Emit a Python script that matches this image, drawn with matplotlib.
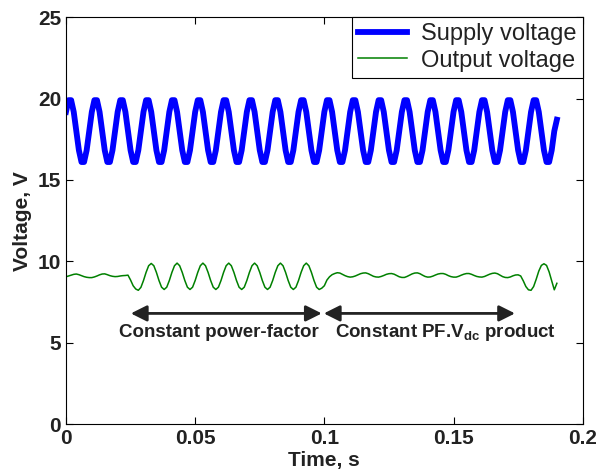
import numpy as np
import matplotlib
matplotlib.use("Agg")
import matplotlib.pyplot as plt

plt.rcParams["font.family"] = ["Liberation Sans", "DejaVu Sans"]
plt.rcParams["mathtext.fontset"] = "custom"
plt.rcParams["mathtext.bf"] = "Liberation Sans:bold"
plt.rcParams["mathtext.rm"] = "Liberation Sans"

# sample times (1 ms steps, 0 .. 0.19 s)
t = np.linspace(0, 0.19, 191)

# supply voltage, one row per 10 ms cycle
supply_v = [
    19.18, 19.90, 19.90, 19.18, 18.00, 16.82, 16.10, 16.10, 16.82, 18.00,
    19.18, 19.90, 19.90, 19.18, 18.00, 16.82, 16.10, 16.10, 16.82, 18.00,
    19.18, 19.90, 19.90, 19.18, 18.00, 16.82, 16.10, 16.10, 16.82, 18.00,
    19.18, 19.90, 19.90, 19.18, 18.00, 16.82, 16.10, 16.10, 16.82, 18.00,
    19.18, 19.90, 19.90, 19.18, 18.00, 16.82, 16.10, 16.10, 16.82, 18.00,
    19.18, 19.90, 19.90, 19.18, 18.00, 16.82, 16.10, 16.10, 16.82, 18.00,
    19.18, 19.90, 19.90, 19.18, 18.00, 16.82, 16.10, 16.10, 16.82, 18.00,
    19.18, 19.90, 19.90, 19.18, 18.00, 16.82, 16.10, 16.10, 16.82, 18.00,
    19.18, 19.90, 19.90, 19.18, 18.00, 16.82, 16.10, 16.10, 16.82, 18.00,
    19.18, 19.90, 19.90, 19.18, 18.00, 16.82, 16.10, 16.10, 16.82, 18.00,
    19.18, 19.90, 19.90, 19.18, 18.00, 16.82, 16.10, 16.10, 16.82, 18.00,
    19.18, 19.90, 19.90, 19.18, 18.00, 16.82, 16.10, 16.10, 16.82, 18.00,
    19.18, 19.90, 19.90, 19.18, 18.00, 16.82, 16.10, 16.10, 16.82, 18.00,
    19.18, 19.90, 19.90, 19.18, 18.00, 16.82, 16.10, 16.10, 16.82, 18.00,
    19.18, 19.90, 19.90, 19.18, 18.00, 16.82, 16.10, 16.10, 16.82, 18.00,
    19.18, 19.90, 19.90, 19.18, 18.00, 16.82, 16.10, 16.10, 16.82, 18.00,
    19.18, 19.90, 19.90, 19.18, 18.00, 16.82, 16.10, 16.10, 16.82, 18.00,
    19.18, 19.90, 19.90, 19.18, 18.00, 16.82, 16.10, 16.10, 16.82, 18.00,
    19.18, 19.90, 19.90, 19.18, 18.00, 16.82, 16.10, 16.10, 16.82, 18.00,
    18.70,
]

output_v = [
    9.05, 9.10, 9.15, 9.20, 9.22, 9.18, 9.12, 9.06, 9.02, 9.00,
    9.00, 9.04, 9.10, 9.17, 9.22, 9.23, 9.18, 9.12, 9.08, 9.06,
    9.07, 9.10, 9.12, 9.13, 9.15, 8.85, 8.50, 8.30, 8.22, 8.40,
    8.82, 9.32, 9.73, 9.87, 9.73, 9.32, 8.82, 8.41, 8.27, 8.41,
    8.82, 9.32, 9.73, 9.89, 9.73, 9.32, 8.82, 8.41, 8.27, 8.41,
    8.82, 9.32, 9.73, 9.89, 9.73, 9.32, 8.82, 8.41, 8.27, 8.41,
    8.82, 9.32, 9.73, 9.89, 9.73, 9.32, 8.82, 8.41, 8.27, 8.41,
    8.82, 9.32, 9.73, 9.89, 9.73, 9.32, 8.82, 8.41, 8.27, 8.41,
    8.82, 9.32, 9.73, 9.89, 9.73, 9.32, 8.82, 8.41, 8.27, 8.41,
    8.82, 9.32, 9.73, 9.89, 9.73, 9.32, 8.82, 8.41, 8.27, 8.35,
    8.50, 8.85, 9.05, 9.18, 9.25, 9.30, 9.28, 9.20, 9.12, 9.06,
    9.03, 9.05, 9.10, 9.17, 9.24, 9.28, 9.29, 9.24, 9.16, 9.08,
    9.04, 9.03, 9.07, 9.13, 9.20, 9.24, 9.25, 9.21, 9.13, 9.05,
    9.01, 9.01, 9.07, 9.15, 9.23, 9.28, 9.29, 9.24, 9.15, 9.07,
    9.03, 9.04, 9.09, 9.16, 9.22, 9.25, 9.25, 9.20, 9.12, 9.06,
    9.03, 9.03, 9.08, 9.15, 9.21, 9.25, 9.25, 9.20, 9.13, 9.07,
    9.04, 9.03, 9.07, 9.14, 9.21, 9.26, 9.28, 9.24, 9.15, 9.06,
    9.01, 9.00, 9.04, 9.11, 9.16, 9.17, 9.10, 8.80, 8.45, 8.25,
    8.22, 8.45, 8.90, 9.40, 9.75, 9.85, 9.75, 9.35, 8.80, 8.25,
    8.65,
]

# region annotations: (start, end) in seconds, arrow height, label
arrow_y = 6.8
spans = [(0.0251, 0.0990), (0.0998, 0.1738)]
span_labels = ["Constant power-factor", r"Constant PF.V$_{\mathbf{dc}}$ product"]
label_x = [0.0592, 0.1470]
label_y = 5.65

fig = plt.figure(figsize=(5.96, 4.76), dpi=100)
ax = fig.add_axes([0.1107, 0.109, 0.867, 0.855])

ax.plot(t, supply_v, color="#0000ff", lw=4.2, label="Supply voltage")
ax.plot(t, output_v, color="#008000", lw=1.1, label="Output voltage")

for (x0, x1) in spans:
    ax.annotate("", xy=(x1, arrow_y), xytext=(x0, arrow_y),
                arrowprops=dict(arrowstyle="<|-|>", color="#222222", lw=2,
                                mutation_scale=24, shrinkA=0, shrinkB=0))
for x, s in zip(label_x, span_labels):
    ax.text(x, label_y, s, ha="center", va="center", fontsize=13.5,
            fontweight="bold", color="#222222")

ax.set_xlim(0, 0.2)
ax.set_ylim(0, 25)
ax.set_xticks([0, 0.05, 0.1, 0.15, 0.2])
ax.set_xticklabels(["0", "0.05", "0.1", "0.15", "0.2"])
ax.set_yticks([0, 5, 10, 15, 20, 25])
ax.tick_params(direction="in", top=True, right=True, length=5, labelsize=15,
               labelcolor="#222222")
for lab in ax.get_xticklabels() + ax.get_yticklabels():
    lab.set_fontweight("bold")
ax.set_xlabel("Time, s", fontsize=15, fontweight="bold", labelpad=2,
              color="#222222")
ax.set_ylabel("Voltage, V", fontsize=15, fontweight="bold", labelpad=4,
              color="#222222")

leg = ax.legend(loc="upper right", fontsize=17, frameon=True, fancybox=False,
                borderaxespad=0, handlelength=2.1, labelspacing=0.2,
                borderpad=0.25, handletextpad=0.6)
leg.get_frame().set_edgecolor("black")
leg.get_frame().set_linewidth(0.8)
leg.get_frame().set_alpha(1)
for txt in leg.get_texts():
    txt.set_color("#222222")

fig.savefig("out.png", dpi=100)
